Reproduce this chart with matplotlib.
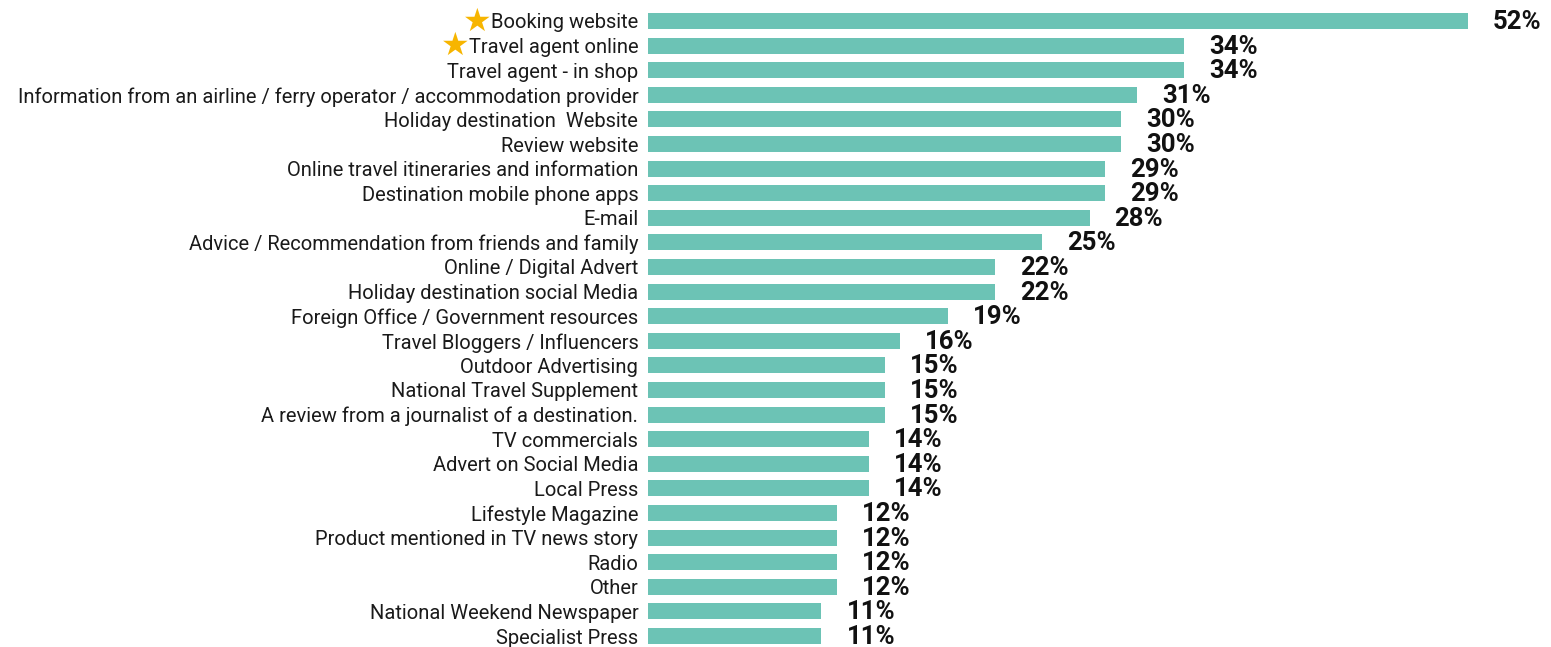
import matplotlib
matplotlib.use('Agg')
import matplotlib.pyplot as plt

categories = [
    'Booking website',
    'Travel agent online',
    'Travel agent - in shop',
    'Information from an airline / ferry operator / accommodation provider',
    'Holiday destination  Website',
    'Review website',
    'Online travel itineraries and information',
    'Destination mobile phone apps',
    'E-mail',
    'Advice / Recommendation from friends and family',
    'Online / Digital Advert',
    'Holiday destination social Media',
    'Foreign Office / Government resources',
    'Travel Bloggers / Influencers',
    'Outdoor Advertising',
    'National Travel Supplement',
    'A review from a journalist of a destination.',
    'TV commercials',
    'Advert on Social Media',
    'Local Press',
    'Lifestyle Magazine',
    'Product mentioned in TV news story',
    'Radio',
    'Other',
    'National Weekend Newspaper',
    'Specialist Press',
]
values = [52, 34, 34, 31, 30, 30, 29, 29, 28, 25, 22, 22, 19, 16, 15, 15, 15,
          14, 14, 14, 12, 12, 12, 12, 11, 11]
starred = ['Booking website', 'Travel agent online']

W, H = 1551, 647
fig = plt.figure(figsize=(W / 100, H / 100), dpi=100)

# axes placed so rows sit where they do in the reference
pitch = (636 - 21) / 25
top_px = 21 - pitch / 2
bot_px = 636 + pitch / 2
ax = fig.add_axes([648 / W, (H - bot_px) / H, 1 - 648 / W, (bot_px - top_px) / H])

pos = list(range(len(categories)))
ax.barh(pos, values, height=0.65, color='#6cc3b5')
ax.set_xlim(0, (W - 648) / 15.77)
ax.set_ylim(len(categories) - 0.5, -0.5)

ax.set_yticks(pos)
ax.set_yticklabels(categories, fontsize=14.5, family='Roboto', color='#1a1a1a')
ax.tick_params(axis='y', length=0, pad=7)
ax.set_xticks([])
for s in ax.spines.values():
    s.set_visible(False)

for p, v in zip(pos, values):
    ax.annotate(f'{v}%', xy=(v, p), xytext=(25, -1), textcoords='offset pixels',
                ha='left', va='center', fontsize=18.5, fontweight='bold',
                family='Roboto', color='#111111')

for lab in ax.get_yticklabels():
    if lab.get_text() in starred:
        ax.annotate('★', xy=(0, 0.5), xycoords=lab, xytext=(1, 1),
                    textcoords='offset pixels', ha='right', va='center',
                    fontsize=23, color='#f7b500', family='DejaVu Sans')

fig.savefig('out.png', dpi=100)
